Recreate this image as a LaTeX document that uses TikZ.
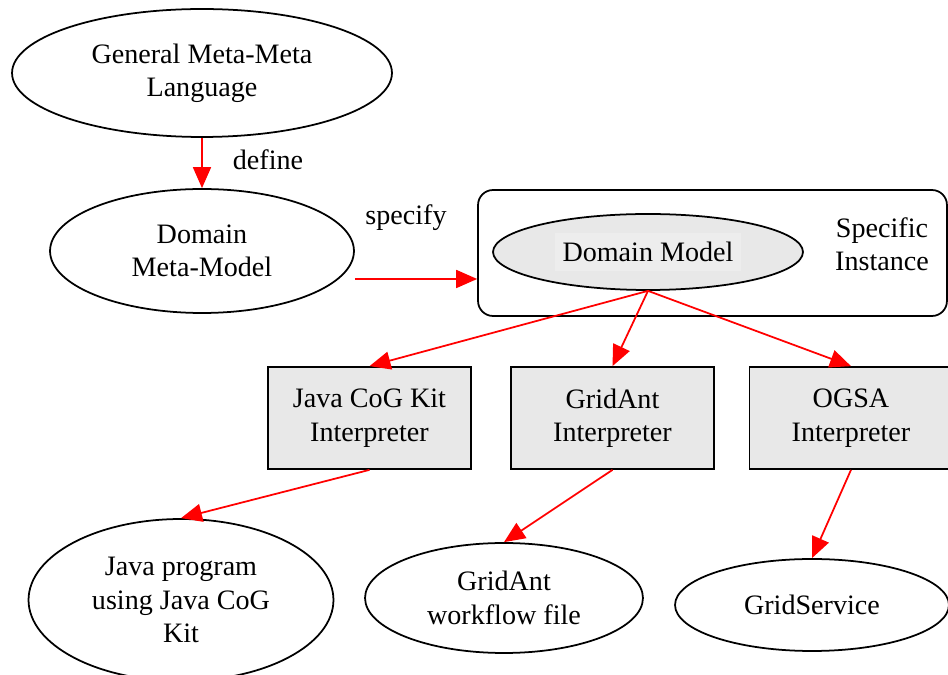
\documentclass[tikz,border=0pt]{standalone}
\usepackage{fontspec}
\setmainfont{Liberation Serif}
\usetikzlibrary{shapes.geometric, arrows.meta, positioning}

\definecolor{boxgray}{RGB}{232,232,232}
\definecolor{textgray}{RGB}{237,237,237}

\tikzset{
	txt/.style={font=\fontsize{16}{19}\selectfont, align=center},
	oval/.style={txt, ellipse, draw, line width=1pt, inner sep=0pt},
	interp/.style={txt, rectangle, draw, line width=1pt, fill=boxgray, minimum width=4.06cm, minimum height=2.04cm},
	cluster/.style={rectangle, draw, line width=1pt, rounded corners=0.3cm, minimum width=9.38cm, minimum height=2.52cm},
	edge/.style={red, line width=1pt, -{Triangle[length=0.42cm, width=0.36cm]}}
}

\begin{document}
\begin{tikzpicture}[x=0.02cm, y=-0.02cm]
\useasboundingbox (0,0) rectangle (948,675);

%% Meta-Ebenen
\node[oval, minimum width=7.6cm, minimum height=2.56cm] (gmm) at (202,73) {General Meta-Meta\\Language};
\node[oval, minimum width=6.08cm, minimum height=2.48cm] (dmm) at (202,251) {Domain\\Meta-Model};
\draw[edge] (gmm.south) -- (dmm.north);
\node[txt] (definelbl) at (268,160) {define};

%% Specific Instance
\node[cluster] (inst) at (712.5,253) {};
\node[oval, fill=boxgray, minimum width=6.2cm, minimum height=1.52cm] (dm) at (648,252) {};
\node[txt, fill=textgray, minimum width=3.74cm, minimum height=0.76cm, inner sep=0pt] (dmtext) at (dm) {Domain Model};
\node[txt] (instlbl) at (882,244) {Specific\\Instance};

\coordinate (spec) at ([yshift=-0.56cm]dmm.east);
\draw[edge] (spec) -- (spec -| inst.west);
\node[txt] (speclbl) at (406,218) {specify};
%%%%%%%%%%%%%%%%

%% Interpreter
\node[interp] (javaint) at (369.5,418) {Java CoG Kit\\Interpreter};
\node[interp] (antint) at (612.5,418) {GridAnt\\Interpreter};
\node[interp] (ogsaint) at (851,418) {OGSA\\Interpreter};

\draw[edge] (dm.south) -- (javaint.north);
\draw[edge] (dm.south) -- (antint.north);
\draw[edge] (dm.south) -- (ogsaint.north);

%% Ergebnisse
\node[oval, minimum width=6.1cm, minimum height=3.24cm] (javaprog) at (181,600) {Java program\\using Java CoG\\Kit};
\node[oval, minimum width=5.56cm, minimum height=2.2cm] (antwf) at (504,598) {GridAnt\\workflow file};
\node[oval, minimum width=5.48cm, minimum height=1.84cm] (gridsvc) at (812,605) {GridService};

\draw[edge] (javaint.south) -- (javaprog.north);
\draw[edge] (antint.south) -- (antwf.north);
\draw[edge] (ogsaint.south) -- (gridsvc.north);

\end{tikzpicture}
\end{document}
